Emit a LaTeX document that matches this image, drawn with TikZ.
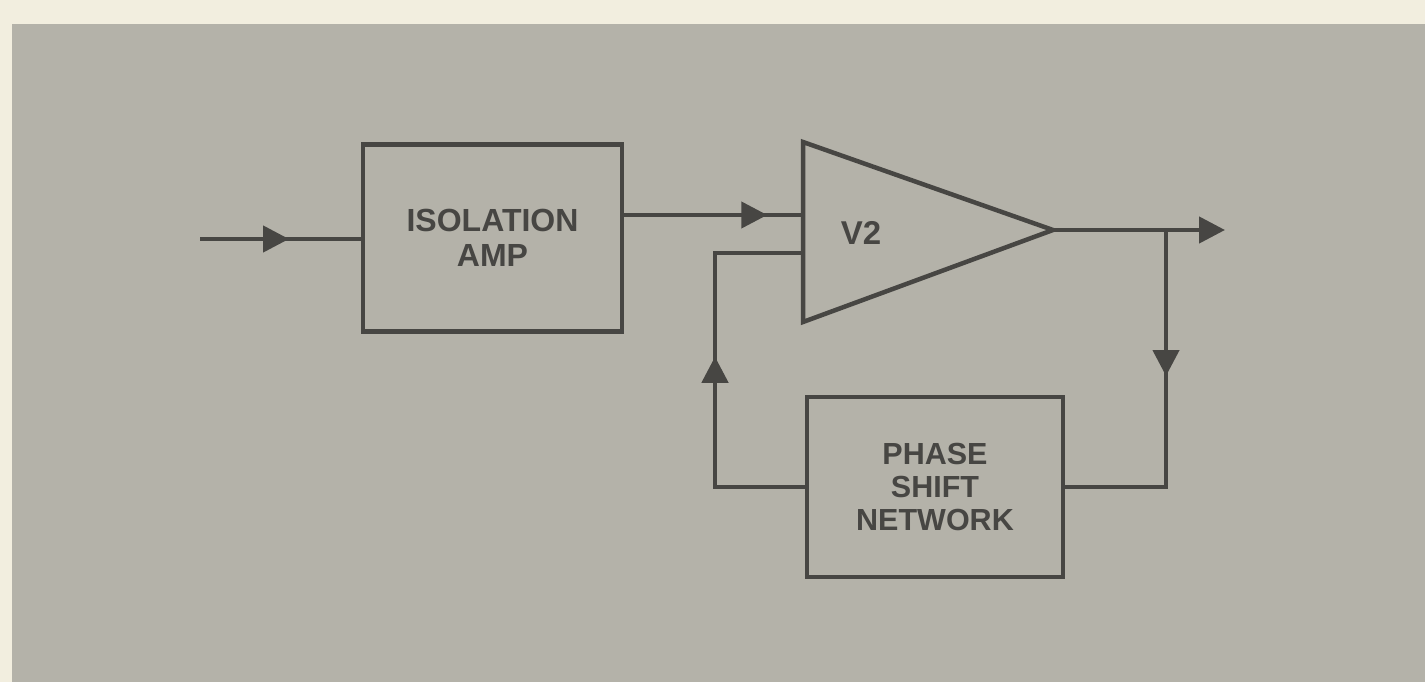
\documentclass[tikz,border=0pt]{standalone}
\usepackage{fontspec}
\setmainfont{Liberation Sans}
\usetikzlibrary{arrows.meta,decorations.markings}
\definecolor{paper}{HTML}{F2EEDF}
\definecolor{panel}{HTML}{B4B2A9}
\definecolor{ink}{HTML}{474643}
\begin{document}
\begin{tikzpicture}[x=1pt,y=-1pt,
  wire/.style={draw=ink,line width=4.5pt,line join=miter},
  blk/.style={draw=ink,line width=4.5pt,inner sep=0pt,align=center,text=ink},
  lbl/.style={text=ink,inner sep=0pt,align=center},
  tipstyle/.style={-{Triangle[length=26pt,width=26pt]}},
  midarrow/.style={postaction={decorate},decoration={markings,
     mark=at position #1 with {\arrow{Triangle[length=26pt,width=26pt,color=ink]}}}}]
\useasboundingbox (0,0) rectangle (1425,682);
\fill[paper] (0,0) rectangle (1425,682);
\fill[panel] (12,24) rectangle (1425,682);
% blocks
\node[blk,minimum width=259pt,minimum height=187pt,
      font=\bfseries\fontsize{32}{35}\selectfont] (iso) at (492.5,238) {ISOLATION\\AMP};
\node[blk,minimum width=256pt,minimum height=180pt,
      font=\bfseries\fontsize{30.5}{33}\selectfont] (psn) at (935,487) {PHASE\\SHIFT\\NETWORK};
% amplifier triangle
\coordinate (tA) at (803,142);
\coordinate (tB) at (803,322);
\coordinate (tC) at (1053,230);
\draw[wire] (tA) -- (tC) -- (tB) -- cycle;
\node[lbl,font=\bfseries\fontsize{33}{36}\selectfont] (v2) at (861,233) {V2};
% connection points
\coordinate (inS) at (200,239);
\coordinate (in1) at (803,215);
\coordinate (in2) at (803,253);
\coordinate (outE) at (1225,230);
\coordinate (br) at (1166,230);
\coordinate (brC) at (1166,487);
\coordinate (fbC) at (715,487);
\coordinate (fbT) at (715,253);
% connectors
\draw[wire,midarrow=89pt] (inS) -- (iso.west |- inS);
\draw[wire,midarrow=143pt] (iso.east |- in1) -- (in1);
\draw[wire,tipstyle] (tC) -- (outE);
\draw[wire,midarrow=146pt] (br) -- (brC) -- (psn.east);
\draw[wire,midarrow=220pt] (psn.west) -- (fbC) -- (fbT) -- (in2);
\end{tikzpicture}
\end{document}
